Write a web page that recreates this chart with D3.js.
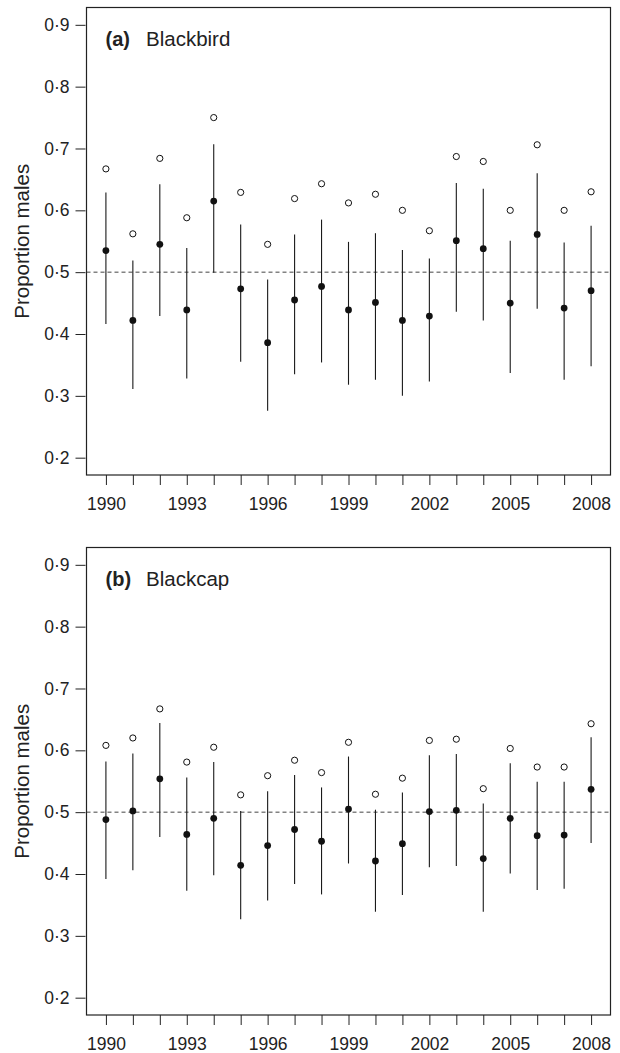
<!DOCTYPE html>
<html lang="en">

<head>
    <meta charset="UTF-8" />
    <style>
        body { margin: 0; background: #fff; }
        text { font-family: "Liberation Sans", Arial, sans-serif; fill: #222; }
    </style>
</head>

<body>
    <svg width="620" height="1053"></svg>
    <script src="https://cdn.jsdelivr.net/npm/d3@7"></script>
    <script>
        var years = d3.range(1990, 2009);
        var yearLabels = [1990, 1993, 1996, 1999, 2002, 2005, 2008];
        var yTicks = [0.2, 0.3, 0.4, 0.5, 0.6, 0.7, 0.8, 0.9];

        // (a) Blackbird
        var blackbirdMean = [0.535, 0.422, 0.545, 0.439, 0.615, 0.473, 0.386, 0.455, 0.477, 0.439,
            0.451, 0.422, 0.429, 0.551, 0.538, 0.450, 0.561, 0.442, 0.470];
        var blackbirdLow = [0.416, 0.311, 0.429, 0.328, 0.499, 0.355, 0.276, 0.335, 0.354, 0.318,
            0.326, 0.300, 0.323, 0.436, 0.422, 0.337, 0.441, 0.326, 0.348];
        var blackbirdHigh = [0.629, 0.519, 0.642, 0.539, 0.707, 0.577, 0.488, 0.561, 0.585, 0.549,
            0.563, 0.536, 0.522, 0.644, 0.635, 0.551, 0.660, 0.548, 0.575];
        var blackbirdOpen = [0.667, 0.562, 0.684, 0.588, 0.750, 0.629, 0.545, 0.619, 0.643, 0.612,
            0.626, 0.600, 0.567, 0.687, 0.679, 0.600, 0.706, 0.600, 0.630];

        // (b) Blackcap
        var blackcapMean = [0.488, 0.502, 0.554, 0.464, 0.490, 0.414, 0.446, 0.472, 0.453, 0.505,
            0.421, 0.449, 0.501, 0.503, 0.425, 0.490, 0.462, 0.463, 0.537];
        var blackcapLow = [0.392, 0.406, 0.460, 0.373, 0.398, 0.327, 0.357, 0.384, 0.367, 0.417,
            0.339, 0.366, 0.411, 0.413, 0.339, 0.401, 0.374, 0.376, 0.450];
        var blackcapHigh = [0.582, 0.595, 0.644, 0.556, 0.581, 0.502, 0.534, 0.560, 0.540, 0.590,
            0.504, 0.532, 0.592, 0.594, 0.514, 0.579, 0.549, 0.549, 0.621];
        var blackcapOpen = [0.608, 0.620, 0.667, 0.581, 0.605, 0.528, 0.559, 0.584, 0.564, 0.613,
            0.529, 0.555, 0.616, 0.618, 0.538, 0.603, 0.573, 0.573, 0.643];

        var svg = d3.select("svg");
        var left = 86.5, right = 610.5, panelH = 467.5;

        // R style 4% padding around the data range
        var x = d3.scaleLinear().domain([1989.28, 2008.72]).range([left, right]);

        function fmt(d) { return d3.format(".1f")(d).replace(".", "\u00b7"); }

        function panel(top, tag, name, mean, low, high, open) {
            var y = d3.scaleLinear().domain([0.172, 0.928]).range([top + panelH, top]);
            var g = svg.append("g");

            var rows = years.map(function (yr, i) {
                return { year: yr, mean: mean[i], low: low[i], high: high[i], open: open[i] };
            });

            // reference line at 0.5
            g.append("line")
                .attr("x1", left).attr("x2", right)
                .attr("y1", y(0.5)).attr("y2", y(0.5))
                .style("stroke", "#444")
                .style("stroke-dasharray", "4,3");

            g.selectAll(".ci")
                .data(rows)
                .enter().append("line")
                .attr("class", "ci")
                .attr("x1", function (d) { return x(d.year); })
                .attr("x2", function (d) { return x(d.year); })
                .attr("y1", function (d) { return y(d.low); })
                .attr("y2", function (d) { return y(d.high); })
                .style("stroke", "#1a1a1a")
                .style("stroke-width", 1.1);

            g.selectAll(".mean")
                .data(rows)
                .enter().append("circle")
                .attr("class", "mean")
                .attr("cx", function (d) { return x(d.year); })
                .attr("cy", function (d) { return y(d.mean); })
                .attr("r", 3.4)
                .style("fill", "#111");

            g.selectAll(".open")
                .data(rows)
                .enter().append("circle")
                .attr("class", "open")
                .attr("cx", function (d) { return x(d.year); })
                .attr("cy", function (d) { return y(d.open); })
                .attr("r", 3.1)
                .style("fill", "#fff")
                .style("stroke", "#111")
                .style("stroke-width", 1);

            g.append("rect")
                .attr("x", left).attr("y", top)
                .attr("width", right - left).attr("height", panelH)
                .style("fill", "none")
                .style("stroke", "#222")
                .style("stroke-width", 1.2);

            var ya = g.append("g")
                .attr("transform", "translate(" + (left - 1) + ",0)")
                .call(d3.axisLeft(y).tickValues(yTicks).tickFormat(fmt).tickSize(10).tickPadding(6));
            var xa = g.append("g")
                .attr("transform", "translate(0," + (top + panelH) + ")")
                .call(d3.axisBottom(x).tickValues(years).tickFormat(function (d) {
                    return yearLabels.indexOf(d) >= 0 ? d : "";
                }).tickSize(10).tickPadding(13));
            [ya, xa].forEach(function (a) {
                a.select(".domain").remove();
                a.selectAll("line").style("stroke", "#222");
                a.selectAll("text").style("font-size", "17.5px").style("fill", "#222")
                    .style("font-family", "'Liberation Sans', Arial, sans-serif");
            });

            g.append("text")
                .attr("transform", "translate(28.5," + (top + panelH / 2) + ") rotate(-90)")
                .attr("text-anchor", "middle")
                .style("font-size", "20.5px")
                .text("Proportion males");

            g.append("text")
                .attr("x", 105.5)
                .attr("y", top + 38.5)
                .style("font-size", "20px")
                .style("font-weight", "bold")
                .text(tag);
            g.append("text")
                .attr("x", 146)
                .attr("y", top + 38.5)
                .style("font-size", "20.5px")
                .text(name);
        }

        panel(7.5, "(a)", "Blackbird", blackbirdMean, blackbirdLow, blackbirdHigh, blackbirdOpen);
        panel(547.5, "(b)", "Blackcap", blackcapMean, blackcapLow, blackcapHigh, blackcapOpen);
    </script>
</body>

</html>
